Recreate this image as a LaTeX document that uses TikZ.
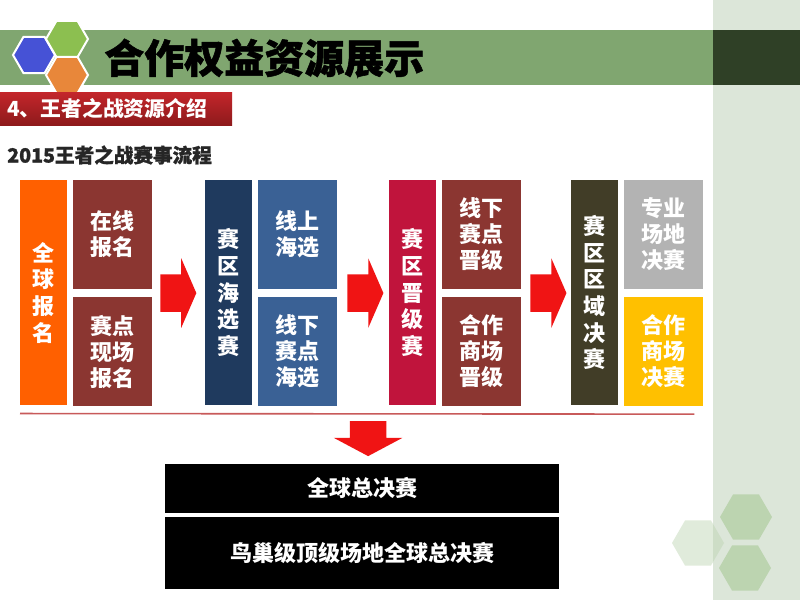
\documentclass[tikz,border=0pt]{standalone}
\usepackage{fontspec}
\newfontfamily\cjk{Noto Sans CJK SC}
\newfontfamily\cjkheavy{Noto Sans CJK SC}[BoldFeatures={FakeBold=1.3}]
\usetikzlibrary{calc,positioning,shapes.geometric,shapes.arrows}
\definecolor{panelgreen}{HTML}{DCE6D9}
\definecolor{bandgreen}{HTML}{80A670}
\definecolor{banddark}{HTML}{2F4026}
\definecolor{hexblue}{HTML}{4652D6}
\definecolor{hexgreen}{HTML}{8CBF50}
\definecolor{hexorange}{HTML}{E8873A}
\definecolor{hexpale}{HTML}{BCD4B0}
\definecolor{barred}{HTML}{C4262B}
\definecolor{bardark}{HTML}{8E1A1C}
\definecolor{regorange}{HTML}{FF6000}
\definecolor{regbrown}{HTML}{8B3631}
\definecolor{seanavy}{HTML}{1F3A5E}
\definecolor{seablue}{HTML}{3A6195}
\definecolor{promored}{HTML}{C0143C}
\definecolor{finalolive}{HTML}{413D27}
\definecolor{venuegrey}{HTML}{B3B3B3}
\definecolor{venuegold}{HTML}{FFC000}
\definecolor{flowred}{HTML}{F01414}
\definecolor{linered}{HTML}{C85A5A}
\tikzstyle{tall} = [rectangle, minimum width=35.25pt, minimum height=168.75pt, inner sep=0pt, text width=35.25pt, align=center, text=white, font=\cjk\bfseries\fontsize{16.5}{20}\selectfont]
\tikzstyle{half} = [rectangle, minimum width=59.25pt, minimum height=81.4pt, inner sep=0pt, text width=59.25pt, align=center, text=white, font=\cjk\bfseries\fontsize{16.5}{19.5}\selectfont]
\tikzstyle{bigarrow} = [single arrow, fill=flowred, minimum height=27pt, inner xsep=0pt, inner ysep=13.875pt, single arrow head extend=12pt, single arrow tip angle=133]
\tikzstyle{final} = [rectangle, fill=black, minimum width=295.5pt, inner sep=0pt, text=white, font=\cjk\bfseries\fontsize{16.5}{20}\selectfont]
\tikzstyle{hexcell} = [regular polygon, regular polygon sides=6, minimum size=31.5pt, inner sep=0pt, draw=white, line width=1.5pt]
\tikzstyle{hexback} = [regular polygon, regular polygon sides=6, minimum size=39pt, inner sep=0pt, fill=hexpale]

\begin{document}
\begin{tikzpicture}[x=0.75pt, y=-0.75pt]
\useasboundingbox (0,0) rectangle (800,600);
% page background
\fill[white] (0,0) rectangle (800,600);
\fill[panelgreen] (713,0) rectangle (800,600);
\fill[bandgreen] (0,30) rectangle (713,85);
\fill[banddark] (713,30) rectangle (800,85);
\node (hexb) [hexcell, fill=hexblue] at (34,55) {};
\node (hexg) [hexcell, fill=hexgreen] at (67,39) {};
\node (hexo) [hexcell, fill=hexorange] at (67,75) {};
\node (title) [anchor=west, inner sep=0pt, font=\cjkheavy\bfseries\fontsize{30}{31}\selectfont] at (104,58) {合作权益资源展示};
\shade[top color=barred, bottom color=bardark] (0,92) rectangle (232,125);
\node (part) [anchor=west, inner sep=0pt, text=white, font=\cjk\bfseries\fontsize{15.6}{16}\selectfont] at (7,108) {4、王者之战资源介绍};
\node (flow) [anchor=west, inner sep=0pt, text=black!85, font=\cjkheavy\bfseries\fontsize{14.7}{15}\selectfont] at (7,155) {2015王者之战赛事流程};
\node (hexr) [hexback, fill opacity=0.45] at (698,543) {};
\node (hexu) [hexback] at (746,517) {};
\node (hexd) [hexback] at (745,568) {};

% flow boxes
\node (t1) [tall, fill=regorange, anchor=north west] at (20,180) {全\\球\\报\\名};
\node (h1a) [half, fill=regbrown, below right=0pt and 3.75pt of t1.north east] {在线\\报名};
\node (h1b) [half, fill=regbrown, below=6pt of h1a] {赛点\\现场\\报名};
\node (a1) [bigarrow, right=6pt of h1a.south east, yshift=-3pt] {};
\node (t2) [tall, fill=seanavy, below right=0pt and 39.75pt of h1a.north east] {赛\\区\\海\\选\\赛};
\node (h2a) [half, fill=seablue, below right=0pt and 3.75pt of t2.north east] {线上\\海选};
\node (h2b) [half, fill=seablue, below=6pt of h2a] {线下\\赛点\\海选};
\node (a2) [bigarrow, right=7.5pt of h2a.south east, yshift=-3pt] {};
\node (t3) [tall, fill=promored, below right=0pt and 39pt of h2a.north east] {赛\\区\\晋\\级\\赛};
\node (h3a) [half, fill=regbrown, below right=0pt and 3.75pt of t3.north east] {线下\\赛点\\晋级};
\node (h3b) [half, fill=regbrown, below=6pt of h3a] {合作\\商场\\晋级};
\node (a3) [bigarrow, right=6.75pt of h3a.south east, yshift=-3pt] {};
\node (t4) [tall, fill=finalolive, below right=0pt and 37.5pt of h3a.north east] {赛\\区\\区\\域\\决\\赛};
\node (h4a) [half, fill=venuegrey, below right=0pt and 3.75pt of t4.north east] {专业\\场地\\决赛};
\node (h4b) [half, fill=venuegold, below=6pt of h4a] {合作\\商场\\决赛};

% rule and final
\coordinate (lineL) at ($(t1.south west)+(0,8)$);
\coordinate (lineR) at ($(h4b.south east)+(-9,8)$);
\draw[linered, line width=1.2pt] (lineL) -- (lineR);
\node (a4) [bigarrow, rotate=-90, anchor=west, minimum height=26.25pt, inner ysep=13.5pt, single arrow tip angle=124] at ($(lineL)!0.5!(lineR)+(11,7)$) {};
\node (f1) [final, minimum height=36.75pt, below=5.25pt of a4.east, xshift=-4.5pt] {全球总决赛};
\node (f2) [final, minimum height=54pt, below=3pt of f1] {鸟巢级顶级场地全球总决赛};
\end{tikzpicture}
\end{document}
